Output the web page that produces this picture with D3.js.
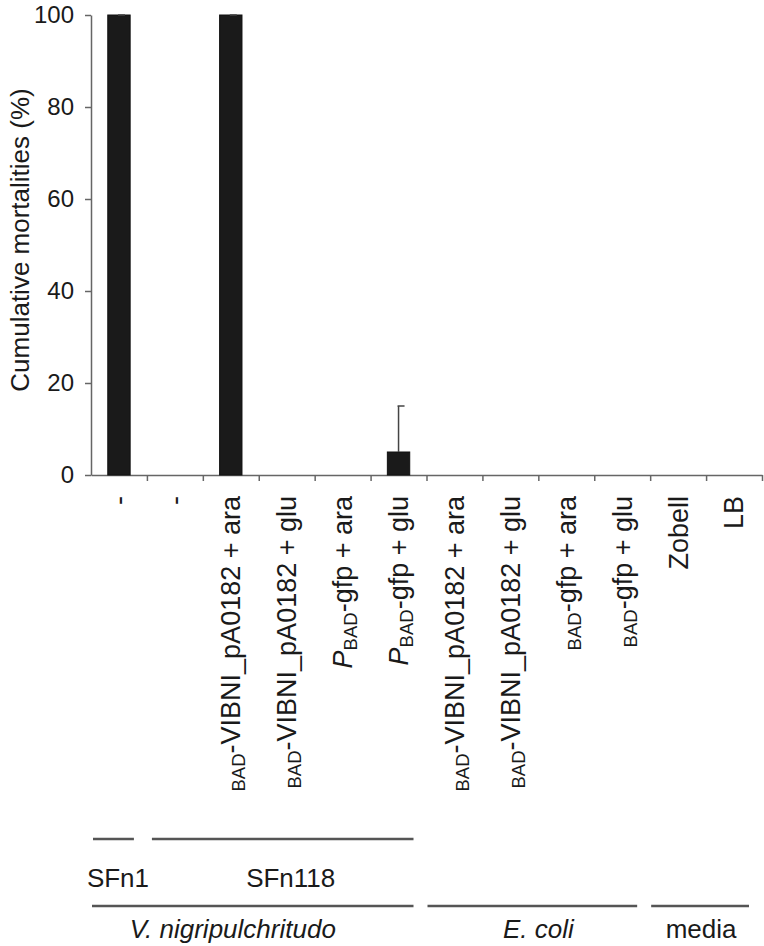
<!DOCTYPE html>
<html>
<head>
<meta charset="utf-8">
<script src="https://cdn.jsdelivr.net/npm/d3@7"></script>
<style>
  body { margin: 0; background: #fff; }
  text { font-family: "Liberation Sans", Arial, Helvetica, sans-serif; fill: #1a1a1a; }
  .axis path, .axis line { stroke: #666; stroke-width: 1.5; }
</style>
</head>
<body>
<div id="chart"></div>
<script>
// bar values
const values = [100, 0, 100, 0, 0, 5, 0, 0, 0, 0, 0, 0];
const errors = [0, 0, 0, 0, 0, 10, 0, 0, 0, 0, 0, 0];
const yTicks = [0, 20, 40, 60, 80, 100];

// x labels: italic prefix, subscript, rest
const labelPrefix = ["", "", "", "", "P", "P", "", "", "", "", "", ""];
const labelSub = ["", "", "BAD", "BAD", "BAD", "BAD", "BAD", "BAD", "BAD", "BAD", "", ""];
const labelMain = ["-", "-", "-VIBNI_pA0182 + ara", "-VIBNI_pA0182 + glu", "-gfp + ara", "-gfp + glu",
  "-VIBNI_pA0182 + ara", "-VIBNI_pA0182 + glu", "-gfp + ara", "-gfp + glu", "Zobell", "LB"];

// grouping rows under the axis
const strainNames = ["SFn1", "SFn118"];
const strainFrom = [0, 1];
const strainTo = [0, 5];
const sourceNames = ["V. nigripulchritudo", "E. coli", "media"];
const sourceFrom = [0, 6, 10];
const sourceTo = [5, 9, 11];
const sourceItalic = [true, true, false];

const width = 764, height = 946;
const margin = { top: 15, left: 91, right: 2, axisY: 475 };
// small hand nudges of the group captions, as in the figure
const strainDx = [5, 10];
const sourceDx = [-20, 6, 1];

const svg = d3.select("#chart").append("svg")
  .attr("width", width)
  .attr("height", height);

const idx = d3.range(values.length);

const x = d3.scaleBand()
  .domain(idx)
  .range([margin.left, width - margin.right])
  .paddingInner(0.6)
  .paddingOuter(0.3);

// boundaries between categories, used for the x ticks and group lines
const xEdge = d3.scaleLinear()
  .domain([0, values.length])
  .range([margin.left, width - margin.right]);

const y = d3.scaleLinear()
  .domain([0, 100])
  .range([margin.axisY, margin.top]);

// y axis
svg.append("g")
  .attr("class", "axis yAxis")
  .attr("transform", `translate(${margin.left},0)`)
  .call(d3.axisLeft(y).tickValues(yTicks).tickSize(6).tickSizeOuter(0).tickPadding(11))
  .selectAll("text")
  .style("font-size", "24px")
  .attr("fill", "#1a1a1a");

// x axis with ticks between the bars
svg.append("g")
  .attr("class", "axis xAxis")
  .attr("transform", `translate(0,${margin.axisY})`)
  .call(d3.axisBottom(xEdge).tickValues(d3.range(1, values.length + 1)).tickSize(6)
    .tickSizeOuter(0).tickFormat(""));

svg.selectAll(".axis text").attr("font-family", null);

// y title
svg.append("text")
  .attr("transform", `translate(29,${(margin.top + margin.axisY) / 2 - 5}) rotate(-90)`)
  .attr("text-anchor", "middle")
  .style("font-size", "26px")
  .text("Cumulative mortalities (%)");

// bars
svg.selectAll("rect.bar")
  .data(idx.filter(i => values[i] > 0))
  .enter()
  .append("rect")
  .attr("class", "bar")
  .attr("x", i => x(i))
  .attr("width", x.bandwidth())
  .attr("y", i => y(values[i]))
  .attr("height", i => y(0) - y(values[i]))
  .style("fill", "#1a1a1a")
  .style("stroke", "#111")
  .style("stroke-width", 1);

// error bars
const errG = svg.selectAll("g.err")
  .data(idx.filter(i => values[i] > 0))
  .enter()
  .append("g")
  .attr("class", "err")
  .style("stroke", "#444")
  .style("stroke-width", 1.5);

errG.append("line")
  .attr("x1", i => x(i) + x.bandwidth() / 2)
  .attr("x2", i => x(i) + x.bandwidth() / 2)
  .attr("y1", i => y(values[i]))
  .attr("y2", i => y(values[i] + errors[i]));

errG.append("line")
  .attr("x1", i => x(i) + x.bandwidth() / 2 - 1)
  .attr("x2", i => x(i) + x.bandwidth() / 2 + 6)
  .attr("y1", i => y(values[i] + errors[i]))
  .attr("y2", i => y(values[i] + errors[i]));

// rotated category labels
const lab = svg.selectAll("text.label")
  .data(idx)
  .enter()
  .append("text")
  .attr("class", "label")
  .attr("transform", i => `translate(${x(i) + x.bandwidth() / 2},496) rotate(-90)`)
  .attr("text-anchor", "end")
  .attr("dy", "0.35em")
  .style("font-size", "27px");

lab.filter(i => labelPrefix[i] !== "")
  .append("tspan")
  .style("font-style", "italic")
  .text(i => labelPrefix[i]);

lab.filter(i => labelSub[i] !== "")
  .append("tspan")
  .attr("baseline-shift", "-25%")
  .style("font-size", "18.5px")
  .text(i => labelSub[i]);

lab.append("tspan")
  .text(i => labelMain[i]);

// strain row
const lineStart = i => xEdge(i) + 1;
const lineEnd = i => xEdge(i + 1) - 13;

const strain = svg.selectAll("g.strain")
  .data(strainNames)
  .enter()
  .append("g")
  .attr("class", "strain");

strain.append("line")
  .attr("x1", (d, k) => lineStart(strainFrom[k]) + (k > 0 ? 4 : 1))
  .attr("x2", (d, k) => lineEnd(strainTo[k]))
  .attr("y1", 839).attr("y2", 839)
  .style("stroke", "#555")
  .style("stroke-width", 2.5);

strain.append("text")
  .attr("x", (d, k) => (lineStart(strainFrom[k]) + lineEnd(strainTo[k])) / 2 + strainDx[k])
  .attr("y", 887)
  .attr("text-anchor", "middle")
  .style("font-size", "26px")
  .text(d => d);

// organism row
const source = svg.selectAll("g.source")
  .data(sourceNames)
  .enter()
  .append("g")
  .attr("class", "source");

source.append("line")
  .attr("x1", (d, k) => lineStart(sourceFrom[k]))
  .attr("x2", (d, k) => lineEnd(sourceTo[k]))
  .attr("y1", 906).attr("y2", 906)
  .style("stroke", "#555")
  .style("stroke-width", 2.5);

source.append("text")
  .attr("x", (d, k) => (lineStart(sourceFrom[k]) + lineEnd(sourceTo[k])) / 2 + sourceDx[k])
  .attr("y", 938)
  .attr("text-anchor", "middle")
  .style("font-size", "26px")
  .style("font-style", (d, k) => sourceItalic[k] ? "italic" : "normal")
  .text(d => d);
</script>
</body>
</html>
